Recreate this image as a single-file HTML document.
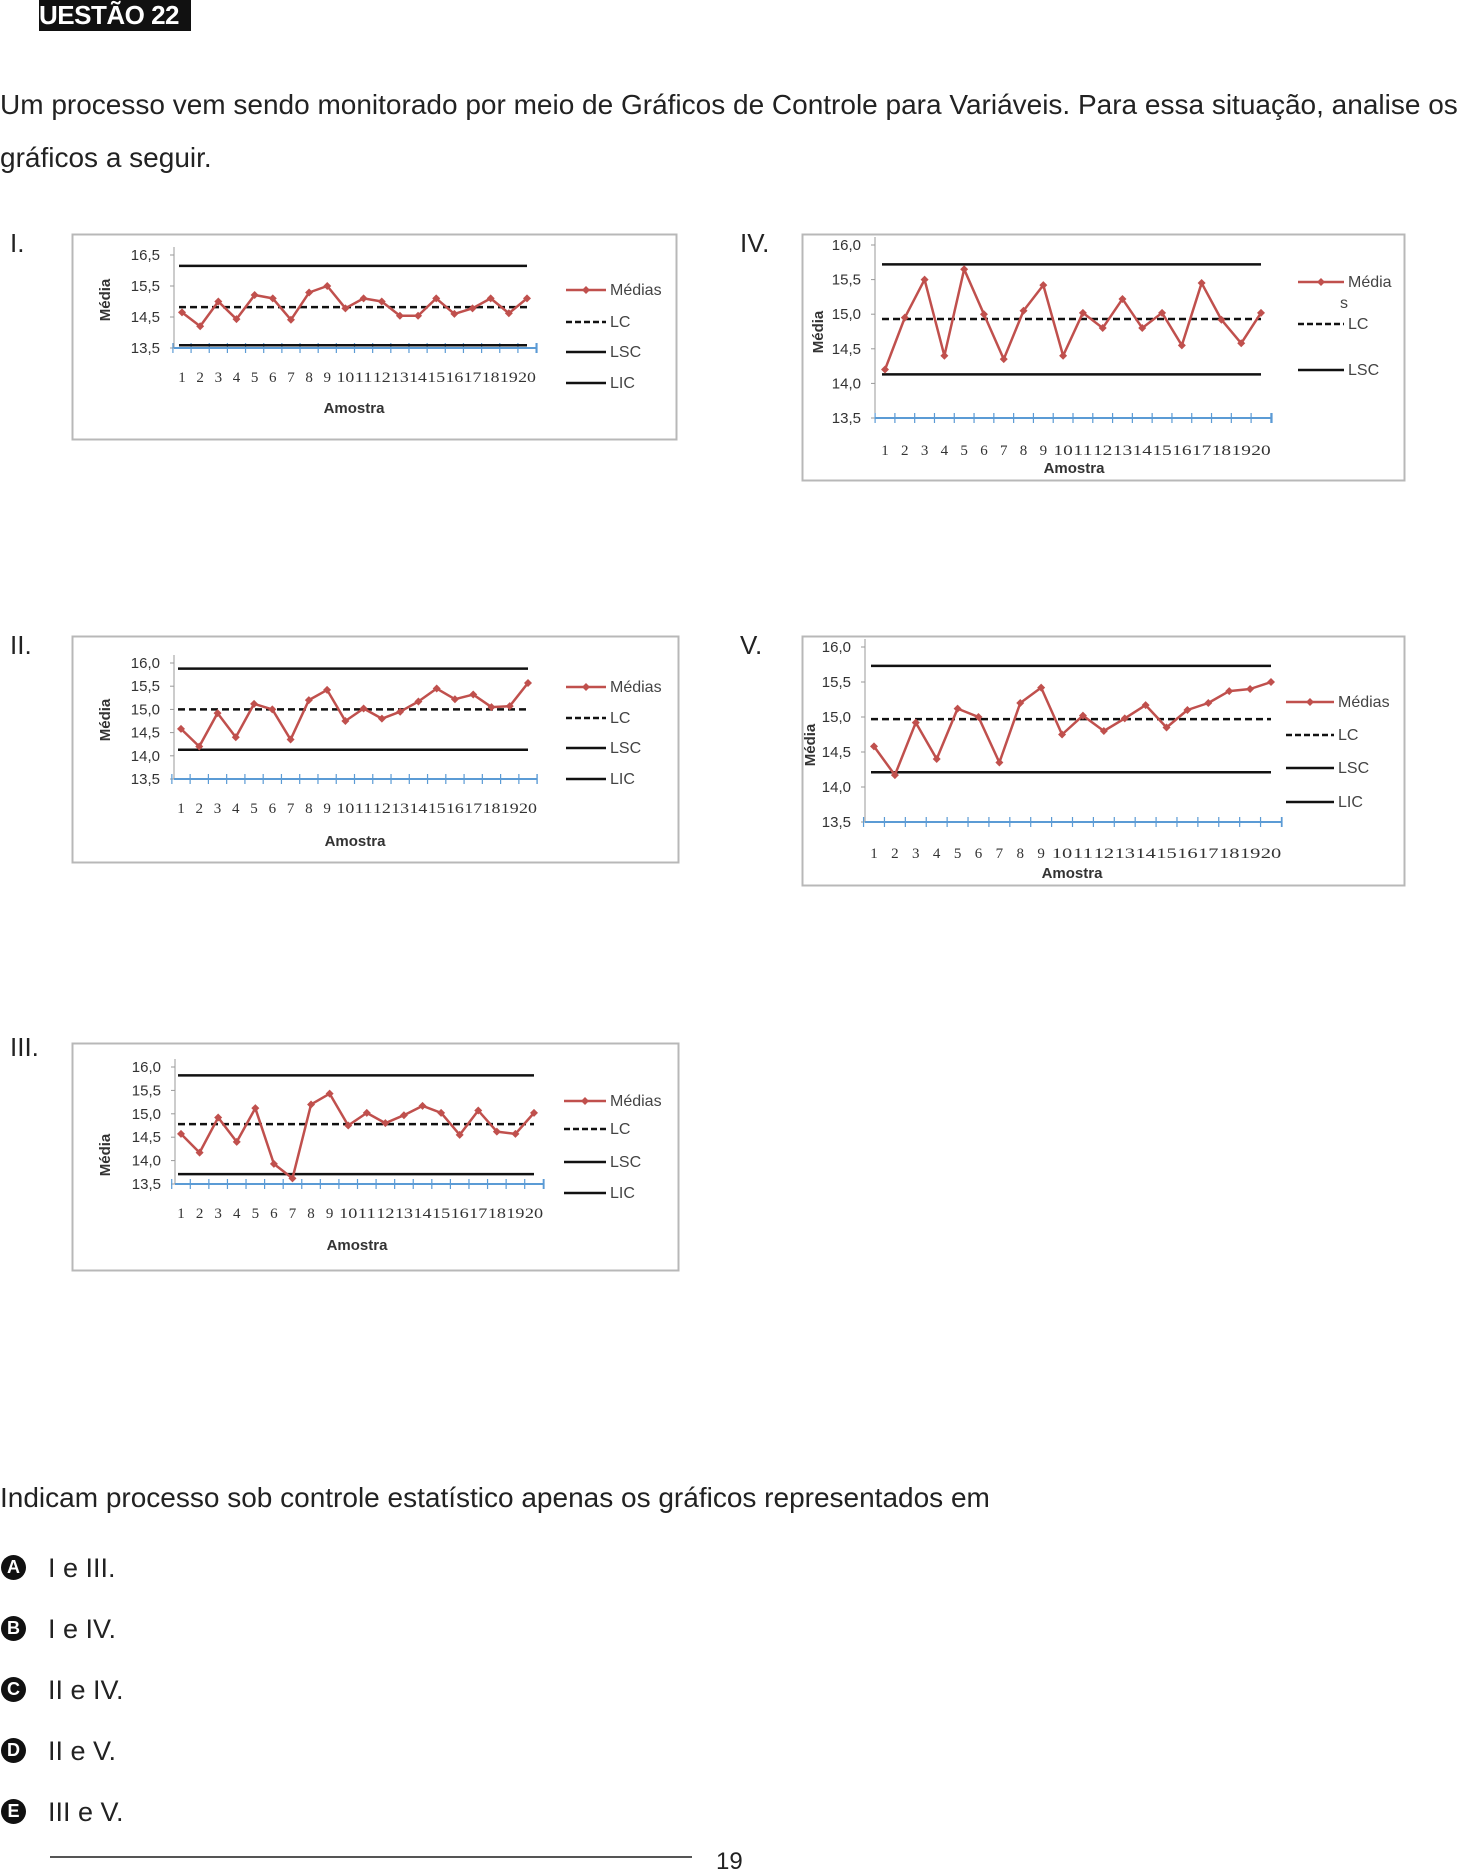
<!DOCTYPE html>
<html><head><meta charset="utf-8">
<style>
html,body{margin:0;padding:0;background:#fff;}
body{width:1460px;height:1866px;position:relative;overflow:hidden;font-family:"Liberation Sans",sans-serif;color:#222;}
.t{position:absolute;white-space:nowrap;}
</style></head><body>
<div class="t" style="left:39px;top:0;width:152px;height:31px;background:#111;color:#fff;font-weight:bold;font-size:26px;line-height:31px;letter-spacing:-0.5px;">UESTÃO 22</div>
<div class="t" style="left:0;top:89px;font-size:28px;">Um processo vem sendo monitorado por meio de Gráficos de Controle para Variáveis. Para essa situação, analise os</div>
<div class="t" style="left:0;top:142px;font-size:28px;">gráficos a seguir.</div>
<div class="t" style="left:10px;top:228px;font-size:26px;">I.</div>
<div class="t" style="left:740px;top:228px;font-size:26px;">IV.</div>
<div class="t" style="left:10px;top:630px;font-size:26px;">II.</div>
<div class="t" style="left:740px;top:630px;font-size:26px;">V.</div>
<div class="t" style="left:10px;top:1032px;font-size:26px;">III.</div>
<div class="t" style="left:0;top:1482px;font-size:28px;">Indicam processo sob controle estatístico apenas os gráficos representados em</div>
<div id="opts"></div>
<div class="t" style="left:50px;top:1856px;width:642px;height:2px;background:#555;"></div>
<div class="t" style="left:716px;top:1848px;font-size:24px;">19</div>
<svg id="svg" width="1460" height="1866" style="position:absolute;left:0;top:0;"></svg>
<script>
const samples = [1,2,3,4,5,6,7,8,9,10,11,12,13,14,15,16,17,18,19,20];
const mediasI = [14.65,14.2,15.0,14.43,15.21,15.1,14.41,15.29,15.5,14.78,15.1,15.0,14.54,14.54,15.1,14.6,14.78,15.1,14.62,15.1];
const limitsI = [16.15,14.82,13.59];
const mediasIV = [14.2,14.95,15.5,14.4,15.65,15.0,14.35,15.05,15.42,14.4,15.02,14.8,15.22,14.8,15.02,14.55,15.45,14.92,14.58,15.02];
const limitsIV = [15.72,14.93,14.13];
const mediasII = [14.58,14.2,14.92,14.4,15.12,15.0,14.35,15.2,15.42,14.75,15.02,14.8,14.95,15.17,15.45,15.22,15.32,15.05,15.07,15.57];
const limitsII = [15.88,15.0,14.13];
const mediasV = [14.58,14.17,14.92,14.4,15.12,15.0,14.35,15.2,15.42,14.75,15.02,14.8,14.98,15.17,14.85,15.1,15.2,15.37,15.4,15.5];
const limitsV = [15.73,14.97,14.21];
const mediasIII = [14.57,14.17,14.92,14.4,15.12,13.93,13.62,15.2,15.43,14.75,15.02,14.8,14.97,15.17,15.02,14.55,15.07,14.62,14.57,15.02];
const limitsIII = [15.82,14.78,13.71];
const ticksI = ['16,5','15,5','14,5','13,5'];
const ticksOther = ['16,0','15,5','15,0','14,5','14,0','13,5'];

const NS='http://www.w3.org/2000/svg';
const svg=document.getElementById('svg');
function mk(tag,attrs,parent,text){const e=document.createElementNS(NS,tag);for(const k in attrs)e.setAttribute(k,attrs[k]);if(text!==undefined)e.textContent=text;(parent||svg).appendChild(e);return e;}

const charts=[
 {id:'i',box:[72,234,604,205],ax:174,x1:182,x20:527,axEnd:537,yTop:255,yBot:348,vTop:16.5,vBot:13.5,ticks:ticksI,tickStep:1,data:mediasI,lim:limitsI,xl:377,am:[354,408],mt:[105,300],lg:[566,606,[290,322,352,383]],lgText:['Médias','LC','LSC','LIC']},
 {id:'iv',box:[802,234,602,246],ax:875,x1:885,x20:1261,axEnd:1272,yTop:245,yBot:418,vTop:16.0,vBot:13.5,ticks:ticksOther,tickStep:0.5,data:mediasIV,lim:limitsIV,xl:450,am:[1074,468],mt:[818,332],lg:[1298,1344,[282,324,370]],lgText:['Média','LC','LSC'],extraS:[1340,303]},
 {id:'ii',box:[72,636,606,226],ax:174,x1:181,x20:528,axEnd:537,yTop:663,yBot:779,vTop:16.0,vBot:13.5,ticks:ticksOther,tickStep:0.5,data:mediasII,lim:limitsII,xl:808,am:[355,841],mt:[105,720],lg:[566,606,[687,718,748,779]],lgText:['Médias','LC','LSC','LIC']},
 {id:'v',box:[802,636,602,249],ax:865,x1:874,x20:1271,axEnd:1282,yTop:647,yBot:822,vTop:16.0,vBot:13.5,ticks:ticksOther,tickStep:0.5,data:mediasV,lim:limitsV,xl:853,am:[1072,873],mt:[810,745],lg:[1286,1334,[702,735,768,802]],lgText:['Médias','LC','LSC','LIC']},
 {id:'iii',box:[72,1043,606,227],ax:175,x1:181,x20:534,axEnd:544,yTop:1067,yBot:1184,vTop:16.0,vBot:13.5,ticks:ticksOther,tickStep:0.5,data:mediasIII,lim:limitsIII,xl:1213,am:[357,1245],mt:[105,1155],lg:[564,606,[1101,1129,1162,1193]],lgText:['Médias','LC','LSC','LIC']}
];

charts.forEach(c=>{
 const g=mk('g',{});
 
 
 const b=mk('rect',{x:c.box[0]+.5,y:c.box[1]+.5,width:c.box[2],height:c.box[3],fill:'#fff',stroke:'#b8b8b8','stroke-width':2},g);
 
 
 const n=samples.length;
 const step=(c.x20-c.x1)/(n-1);
 const xS=i=>c.x1+i*step;
 const yS=v=>c.yBot-(v-c.vBot)/(c.vTop-c.vBot)*(c.yBot-c.yTop);
 const ya=mk('line',{x1:c.ax,y1:c.yTop-8,x2:c.ax,y2:c.yBot,stroke:'#999','stroke-width':1},g);
 
 
 c.ticks.forEach((t,k)=>{
  const v=c.vTop-k*c.tickStep;const y=yS(v);
  mk('line',{x1:c.ax-4,y1:y,x2:c.ax,y2:y,stroke:'#999'},g);
  const tl=mk('text',{x:c.ax-14,y:y+5,'text-anchor':'end','font-size':15,fill:'#333','font-family':'Liberation Sans, sans-serif'},g,t);
  
  
 });
 const xa=mk('line',{x1:c.ax,y1:c.yBot,x2:c.axEnd,y2:c.yBot,stroke:'#5b9bd5','stroke-width':2},g);
 
 
 for(let i=0;i<=n;i++){const x=c.x1-step/2+i*step;mk('line',{x1:x,y1:c.yBot-5,x2:x,y2:c.yBot+5,stroke:'#5b9bd5','stroke-width':1.2},g);}
 mk('line',{x1:c.axEnd,y1:c.yBot-5,x2:c.axEnd,y2:c.yBot+5,stroke:'#5b9bd5','stroke-width':1.2},g);
 samples.forEach((s,i)=>{
  const tl=mk('text',{x:xS(i),y:c.xl+5,'text-anchor':'middle','font-size':15,fill:'#333','font-family':'Liberation Serif, serif'},g,String(s));
  if(s>9){tl.setAttribute('textLength',step*0.98);tl.setAttribute('lengthAdjust','spacingAndGlyphs');}
  
  
 });
 const dash=['', '7,4', ''];
 const names=['lsc-line','lc-line','lic-line'];
 c.lim.forEach((v,k)=>{
  const l=mk('line',{x1:c.x1-3,y1:yS(v),x2:c.x20,y2:yS(v),stroke:'#111','stroke-width':2.5},g);
  if(dash[k])l.setAttribute('stroke-dasharray',dash[k]);
  
  
 });
 const pts=c.data.map((v,i)=>xS(i)+','+yS(v)).join(' ');
 const pl=mk('polyline',{points:pts,fill:'none',stroke:'#c0504d','stroke-width':2.5,'stroke-linejoin':'round'},g);
 
 
 c.data.forEach((v,i)=>{
  const x=xS(i),y=yS(v);
  const p=mk('polygon',{points:`${x},${y-4} ${x+4},${y} ${x},${y+4} ${x-4},${y}`,fill:'#c0504d'},g);
  
  
 });
 const am=mk('text',{x:c.am[0],y:c.am[1]+5,'text-anchor':'middle','font-size':15,'font-weight':'bold',fill:'#333','font-family':'Liberation Sans, sans-serif'},g,'Amostra');
 
 
 const mt=mk('text',{x:c.mt[0],y:c.mt[1],'text-anchor':'middle','font-size':15,'font-weight':'bold',fill:'#333','font-family':'Liberation Sans, sans-serif',transform:`rotate(-90 ${c.mt[0]} ${c.mt[1]})`,dy:5},g,'Média');
 
 
 c.lgText.forEach((t,k)=>{
  const y=c.lg[2][k];
  const ln=mk('line',{x1:c.lg[0],y1:y,x2:c.lg[1],y2:y,stroke:k===0?'#c0504d':'#111','stroke-width':2.5},g);
  if(k===1)ln.setAttribute('stroke-dasharray','6,3');
  
  
  if(k===0){const m=(c.lg[0]+c.lg[1])/2;mk('polygon',{points:`${m},${y-4} ${m+4},${y} ${m},${y+4} ${m-4},${y}`,fill:'#c0504d'},g);}
  const tx=mk('text',{x:c.lg[1]+4,y:y+5,'font-size':16,fill:'#444','font-family':'Liberation Sans, sans-serif'},g,t);
  
  
 });
 if(c.extraS){const s=mk('text',{x:c.extraS[0],y:c.extraS[1]+5,'font-size':16,fill:'#444','font-family':'Liberation Sans, sans-serif'},g,'s');
  
  }
});

const optLetters=['A','B','C','D','E'];
const optTexts=['I e III.','I e IV.','II e IV.','II e V.','III e V.'];
const optY=[1568,1629,1690,1751,1812];
const od=document.getElementById('opts');
optLetters.forEach((L,i)=>{
 const d=document.createElement('div');
 d.className='t';
 
 
 d.style.cssText=`left:0;top:${optY[i]-16}px;height:32px;font-size:27px;line-height:32px;`;
 d.innerHTML=`<span style="display:inline-block;width:25px;height:25px;border-radius:50%;background:#111;color:#fff;font-weight:bold;font-size:18px;line-height:25px;text-align:center;vertical-align:middle;margin-left:1px;margin-right:22px;position:relative;top:-2px;">${L}</span>${optTexts[i]}`;
 od.appendChild(d);
});
</script>
</body></html>
